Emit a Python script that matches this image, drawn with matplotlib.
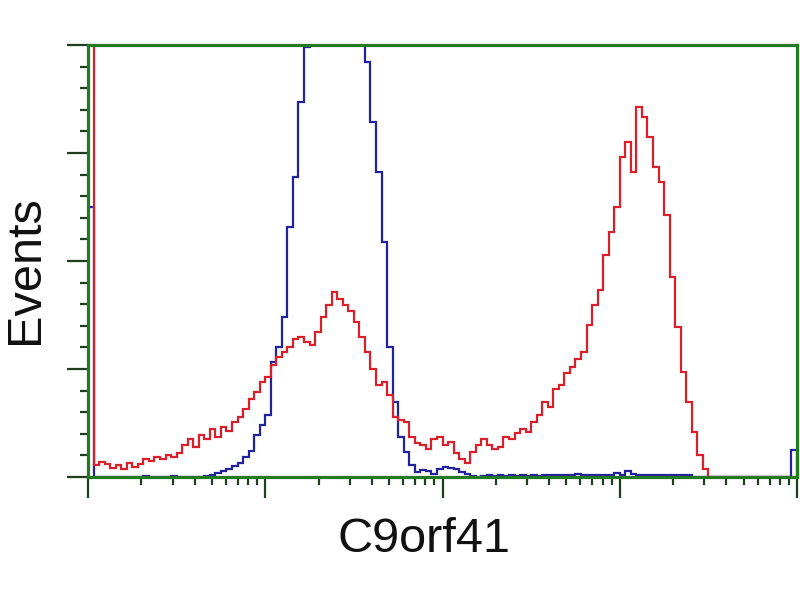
import numpy as np
import matplotlib
matplotlib.use("Agg")
import matplotlib.pyplot as plt
from matplotlib.ticker import MultipleLocator, LogLocator, NullFormatter

# 128 channels spanning 4 decades (10^0 .. 10^4)
n_bins = 128
red_counts = [
    600, 12, 15, 13, 9, 12, 8, 14, 10, 13,
    18, 16, 20, 18, 22, 20, 24, 32, 38, 30,
    42, 38, 48, 40, 50, 46, 55, 60, 68, 78,
    85, 95, 100, 112, 120, 125, 130, 138, 140, 135,
    132, 145, 160, 172, 185, 178, 172, 166, 155, 140,
    125, 108, 92, 95, 82, 60, 57, 55, 40, 34,
    32, 28, 38, 40, 32, 35, 24, 18, 14, 25,
    32, 38, 32, 28, 30, 40, 38, 44, 48, 45,
    55, 62, 75, 70, 88, 92, 104, 110, 118, 125,
    152, 172, 187, 222, 245, 270, 320, 335, 305, 370,
    360, 340, 310, 295, 262, 200, 150, 105, 75, 45,
    22, 8, 0, 0, 0, 0, 0, 0, 0, 0,
    0, 0, 0, 0, 0, 0, 0, 0,
]
blue_counts = [
    270, 0, 0, 0, 0, 0, 0, 0, 0, 0,
    1, 0, 0, 0, 0, 1, 0, 0, 0, 0,
    0, 1, 2, 4, 6, 8, 11, 14, 20, 26,
    42, 52, 62, 115, 130, 160, 250, 300, 375, 430,
    480, 520, 560, 580, 600, 590, 560, 520, 490, 450,
    415, 355, 305, 235, 130, 75, 40, 25, 12, 5,
    7, 6, 3, 8, 10, 9, 8, 5, 3, 1,
    0, 1, 2, 1, 2, 1, 2, 1, 2, 1,
    2, 1, 2, 2, 2, 2, 2, 2, 3, 2,
    2, 2, 2, 2, 2, 4, 2, 6, 3, 2,
    2, 2, 2, 2, 2, 2, 2, 2, 2, 0,
    0, 0, 0, 0, 0, 0, 0, 0, 0, 0,
    0, 0, 0, 0, 0, 0, 0, 27,
]
x_label = "C9orf41"
y_label = "Events"

edges = 10 ** (np.arange(n_bins + 1) * 4.0 / n_bins)

plt.rcParams['font.family'] = ['Liberation Sans', 'DejaVu Sans']
fig = plt.figure(figsize=(8, 6), dpi=100)
ax = fig.add_axes([88 / 800, 1 - 477 / 600, (797 - 88) / 800, (477 - 45) / 600])

ax.stairs(blue_counts, edges, color="#22229a", lw=1.6, zorder=3)
ax.stairs(red_counts, edges, color="#d8202a", lw=1.6, zorder=4)

ax.set_xscale("log")
ax.set_xlim(1, 1e4)
ax.set_ylim(0, 432)

ax.xaxis.set_major_locator(LogLocator(base=10, numticks=10))
ax.xaxis.set_minor_locator(LogLocator(base=10, subs=np.arange(2, 10), numticks=20))
ax.xaxis.set_major_formatter(NullFormatter())
ax.xaxis.set_minor_formatter(NullFormatter())
ax.yaxis.set_major_locator(MultipleLocator(108))
ax.yaxis.set_minor_locator(MultipleLocator(21.6))
ax.yaxis.set_major_formatter(NullFormatter())

tick_col = "#1f3d1f"
ax.tick_params(axis="both", which="major", direction="out", length=15, width=1.6, color=tick_col)
ax.tick_params(axis="both", which="minor", direction="out", length=6, width=1.6, color=tick_col)
ax.tick_params(top=False, right=False)

for s in ax.spines.values():
    s.set_color("#227a22")
    s.set_linewidth(2.3)
    s.set_zorder(5)

fig.text(424 / 800, 1 - 540 / 600, x_label, ha="center", va="center", fontsize=35, color="#111111")
fig.text(25 / 800, 1 - 270 / 600, y_label, ha="center", va="center", rotation=90, fontsize=35, color="#111111")

fig.savefig("out.png", dpi=100)
